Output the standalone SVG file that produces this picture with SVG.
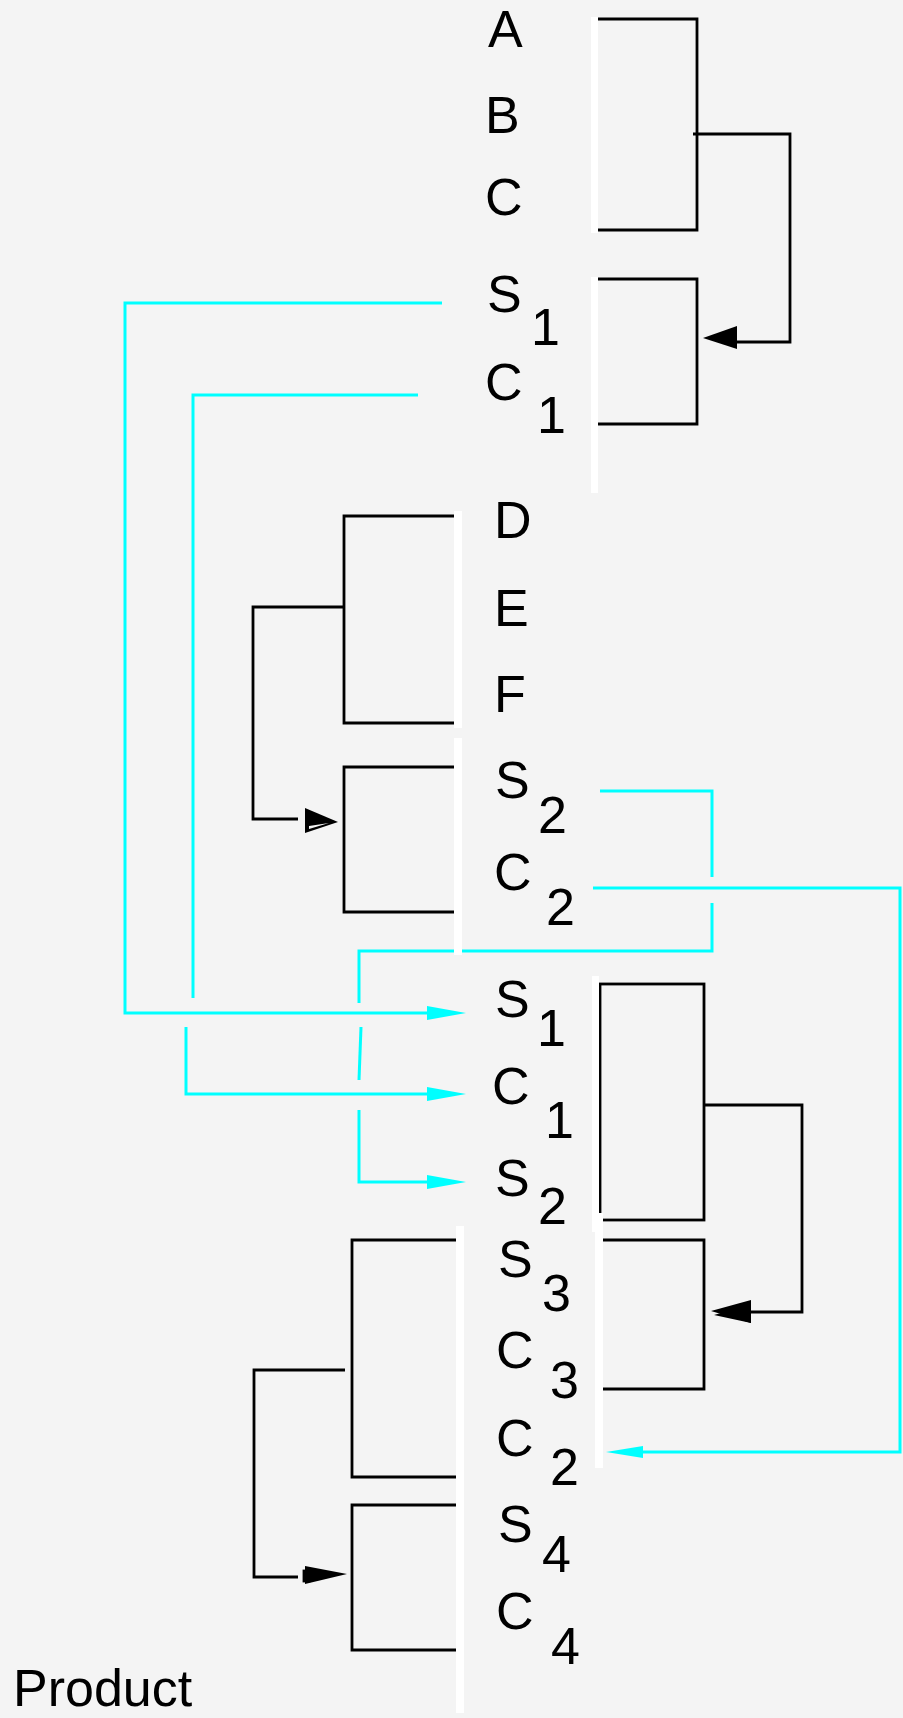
<svg xmlns="http://www.w3.org/2000/svg" width="903" height="1718" viewBox="0 0 903 1718">
  <style>
    .lbl { font-family: "Liberation Sans", Arial, sans-serif; font-size: 52px; fill: #000; }
    .bar { fill: #ffffff; }
    .br { fill: none; stroke: #000; stroke-width: 2.8; }
    .cy { fill: none; stroke: #00ffff; stroke-width: 3; }
    .ah { fill: #000; }
    .cah { fill: #00ffff; }
  </style>
  <rect x="0" y="0" width="903" height="1718" fill="#f4f4f4"/>

  <!-- brackets, merges and data lines -->
  <g id="connectors">
    <!-- group 1: A,B,C merged into S1,C1 -->
    <path class="br" d="M598 19 H697 V230 H598"/>
    <path class="br" d="M598 279 H697 V424 H598"/>
    <path class="br" d="M693 134 H790 V342 H737"/>
    <polygon class="ah" points="703,338 737,326 737,349"/>

    <!-- group 2: D,E,F merged into S2,C2 -->
    <path class="br" d="M454 516 H344 V723 H454"/>
    <path class="br" d="M454 767 H344 V912 H454"/>
    <path class="br" d="M344 607 H253 V819 H298"/>
    <polygon class="ah" points="305,808 338,822 305,833"/>
    <polygon fill="#f4f4f4" points="309,826 329,823 309,829"/>

    <!-- group 3: S1,C1,S2 merged into S3,C3 -->
    <rect class="br" x="600" y="984" width="104" height="236"/>
    <path class="br" d="M603 1240 H704 V1389 H603"/>
    <path class="br" d="M704 1105 H802 V1312 H751"/>
    <polygon class="ah" points="711,1311 751,1300 751,1323"/>
    <polygon class="ah" points="714,1315 751,1304 751,1323"/>

    <!-- group 4: S3,C3,C2 merged into S4,C4 -->
    <path class="br" d="M456 1240 H352 V1477 H456"/>
    <path class="br" d="M456 1505 H352 V1650 H456"/>
    <path class="br" d="M345 1370 H254 V1577 H298"/>
    <polygon class="ah" points="305,1566 347,1574 305,1584"/>
    <rect class="br" x="304" y="1571" width="5" height="10" stroke-width="2"/>

    <!-- S1 carried down -->
    <path class="cy" d="M442 303 H125 V1013 H430"/>
    <polygon class="cah" points="466,1013 427,1006 427,1020"/>
    <!-- C1 carried down -->
    <path class="cy" d="M418 395 H193 V998"/>
    <path class="cy" d="M186 1027 V1094 H430"/>
    <polygon class="cah" points="466,1094 427,1087 427,1101"/>
    <!-- S2 carried down -->
    <path class="cy" d="M600 791 H712 V877"/>
    <path class="cy" d="M712 903 V951 H359 V1003"/>
    <path class="cy" d="M361 1027 L359 1080"/>
    <path class="cy" d="M359 1110 V1182 H430"/>
    <polygon class="cah" points="466,1182 427,1175 427,1189"/>
    <!-- C2 carried down -->
    <path class="cy" d="M593 888 H900 V1452 H640"/>
    <polygon class="cah" points="606,1452 643,1446 643,1458"/>
  </g>

  <g id="node-abc">
    <rect class="bar" x="591" y="17" width="7" height="216"/>
    <text class="lbl" x="488" y="47">A</text>
    <text class="lbl" x="485" y="133">B</text>
    <text class="lbl" x="485" y="215">C</text>
  </g>
  <g id="node-s1c1">
    <rect class="bar" x="591" y="277" width="7" height="216"/>
    <text class="lbl" x="487" y="312">S</text><text class="lbl" x="531" y="345">1</text>
    <text class="lbl" x="485" y="400">C</text><text class="lbl" x="537" y="433">1</text>
  </g>
  <g id="node-def">
    <rect class="bar" x="454" y="511" width="8" height="217"/>
    <text class="lbl" x="494" y="538">D</text>
    <text class="lbl" x="494" y="626">E</text>
    <text class="lbl" x="494" y="712">F</text>
  </g>
  <g id="node-s2c2">
    <rect class="bar" x="454" y="738" width="8" height="217"/>
    <text class="lbl" x="495" y="798">S</text><text class="lbl" x="538" y="833">2</text>
    <text class="lbl" x="494" y="890">C</text><text class="lbl" x="546" y="925">2</text>
  </g>
  <g id="node-s1c1s2">
    <rect class="bar" x="592" y="976" width="7" height="256"/>
    <text class="lbl" x="495" y="1017">S</text><text class="lbl" x="537" y="1046">1</text>
    <text class="lbl" x="492" y="1104">C</text><text class="lbl" x="545" y="1138">1</text>
    <text class="lbl" x="495" y="1196">S</text><text class="lbl" x="538" y="1224">2</text>
  </g>
  <g id="node-s3c3c2">
    <rect class="bar" x="595" y="1213" width="8" height="255"/>
    <text class="lbl" x="498" y="1277">S</text><text class="lbl" x="542" y="1311">3</text>
    <text class="lbl" x="496" y="1368">C</text><text class="lbl" x="550" y="1398">3</text>
    <text class="lbl" x="496" y="1456">C</text><text class="lbl" x="550" y="1485">2</text>
  </g>
  <g id="node-s4c4">
    <rect class="bar" x="456" y="1226" width="8" height="487"/>
    <text class="lbl" x="498" y="1542">S</text><text class="lbl" x="542" y="1572">4</text>
    <text class="lbl" x="496" y="1629">C</text><text class="lbl" x="551" y="1664">4</text>
  </g>
  <g id="title">
    <text class="lbl" x="13" y="1706">Product</text>
  </g>
</svg>
